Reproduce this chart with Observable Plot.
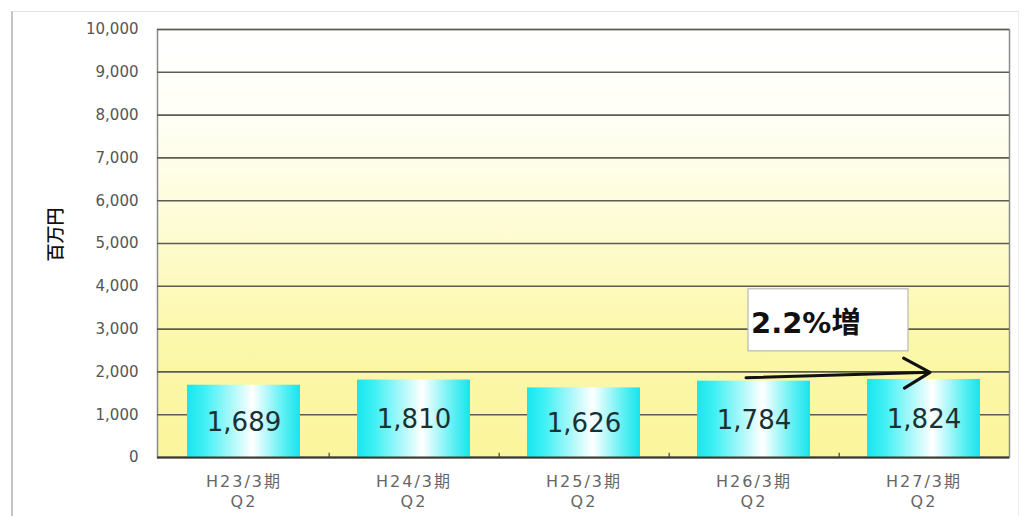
<!DOCTYPE html>
<html>
<head>
<meta charset="utf-8">
<script src="https://cdn.jsdelivr.net/npm/d3@7"></script>
<script src="https://cdn.jsdelivr.net/npm/@observablehq/plot@0.6"></script>
<style>
  html, body { margin: 0; padding: 0; background: #fff; }
  #wrap { position: relative; width: 1025px; height: 516px; }
  #border { position: absolute; left: 11px; top: 11px; right: 6px; bottom: -2px;
    border-left: 2px solid #c4c4c4; border-top: 1px solid #e2e2e2; border-right: 1px solid #eeeeee; }
  svg { position: absolute; left: 0; top: 0; }
</style>
</head>
<body>
<div id="wrap"><div id="border"></div></div>
<script>
// ---- data ----
const periods = ["H23/3期", "H24/3期", "H25/3期", "H26/3期", "H27/3期"];
const quarters = ["Q2", "Q2", "Q2", "Q2", "Q2"];
const sales = [1689, 1810, 1626, 1784, 1824];
const yTicks = [0, 1000, 2000, 3000, 4000, 5000, 6000, 7000, 8000, 9000, 10000];
const yLabel = "百万円";
const growthText = "2.2%増";
const growthFrom = "H26/3期"; // arrow start category
const growthTo = "H27/3期";   // arrow end category
const arrowY = [1870, 1985];   // arrow levels (value units)
const noteY = 3130;            // annotation level (value units)

const cats = periods.map((p, i) => p + "\n" + quarters[i]);
const rows = cats.map((c, i) => ({cat: c, value: sales[i]}));
const catOf = p => cats[periods.indexOf(p)];

const font = "'DejaVu Sans', 'Noto Sans CJK JP', sans-serif";
const cjk = "'Noto Sans CJK JP', sans-serif";

const chart = Plot.plot({
  width: 1025,
  height: 516,
  marginLeft: 157,
  marginRight: 16,
  marginTop: 29,
  marginBottom: 59,
  style: {fontFamily: font, background: "transparent", overflow: "visible"},
  x: {domain: cats, paddingInner: 0.336, paddingOuter: 0.168, label: null},
  y: {domain: [0, 10000], label: null},
  marks: [
    Plot.frame({fill: "url(#bgGrad)", stroke: "#8a8a8a", strokeWidth: 1.5}),
    Plot.gridY(yTicks, {stroke: "#5c5c50", strokeOpacity: 1, strokeWidth: 1.6}),
    Plot.barY(rows, {x: "cat", y: "value", fill: "url(#barGrad)"}),
    Plot.ruleX(cats.slice(0, 4), {x: d => d, dx: 85.2, y1: 0, y2: 100, stroke: "#444", strokeWidth: 1.2}),
    Plot.ruleY([0], {stroke: "#3a3a30", strokeWidth: 2}),
    Plot.axisY({ticks: yTicks, tickSize: 0, tickPadding: 19, tickFormat: d3.format(","),
      fontSize: 15, fill: "#555", label: null}),
    Plot.axisX({tickSize: 0, tickPadding: 15, fontSize: 16, fill: "#666", lineHeight: 1.25, label: null}),
    Plot.text([yLabel], {frameAnchor: "left", textAnchor: "middle", dx: -101, dy: -9, rotate: -90,
      text: d => d, fontSize: 18, fontWeight: 500, fill: "#111", fontFamily: cjk}),
    Plot.text(rows, {x: "cat", y: d => d.value / 2, text: d => d3.format(",")(d.value),
      fontSize: 26, fill: "#1a3134", dy: 1}),
    Plot.arrow([{a: catOf(growthFrom), b: catOf(growthTo)}], {
      x1: "a", x2: "b", y1: () => arrowY[0], y2: () => arrowY[1],
      insetStart: -8, insetEnd: -6, stroke: "#111", strokeWidth: 3, headLength: 15, bend: 0}),
    Plot.text([growthText], {x: () => catOf(growthFrom), y: () => noteY, text: d => d,
      textAnchor: "start", dx: -3, fontSize: 29, fontWeight: "bold", fill: "#111",
      className: "growth-note"})
  ]
});

const svg = d3.select(chart);
const defs = svg.insert("defs", ":first-child");
const bg = defs.append("linearGradient").attr("id", "bgGrad")
  .attr("x1", 0).attr("y1", 0).attr("x2", 0).attr("y2", 1);
[[0, "#ffffff"], [0.2, "#fffff6"], [0.45, "#fefcd6"], [0.7, "#fcf8ac"], [1, "#fbf59c"]]
  .forEach(([o, c]) => bg.append("stop").attr("offset", o).attr("stop-color", c));
const bar = defs.append("linearGradient").attr("id", "barGrad")
  .attr("x1", 0).attr("y1", 0).attr("x2", 1).attr("y2", 0);
[[0, "#18e6ee"], [0.15, "#3ef0f4"], [0.58, "#ffffff"], [0.85, "#5ef0f4"], [1, "#18e4ec"]]
  .forEach(([o, c]) => bar.append("stop").attr("offset", o).attr("stop-color", c));

document.getElementById("wrap").appendChild(chart);

// wider spacing for the category labels
chart.querySelectorAll('[aria-label="x-axis tick label"] text').forEach(t => {
  t.style.letterSpacing = "2px";
});

// white box behind the growth annotation
const t = chart.querySelector(".growth-note text");
if (t) {
  const b = t.getBBox();
  const r = document.createElementNS("http://www.w3.org/2000/svg", "rect");
  r.setAttribute("x", b.x - 3);
  r.setAttribute("y", b.y + b.height / 2 - 34);
  r.setAttribute("width", 160);
  r.setAttribute("height", 62);
  r.setAttribute("fill", "#fff");
  r.setAttribute("stroke", "#b8b8b8");
  r.setAttribute("stroke-width", 1.2);
  if (t.getAttribute("transform")) r.setAttribute("transform", t.getAttribute("transform"));
  t.parentNode.insertBefore(r, t);
}
</script>
</body>
</html>
